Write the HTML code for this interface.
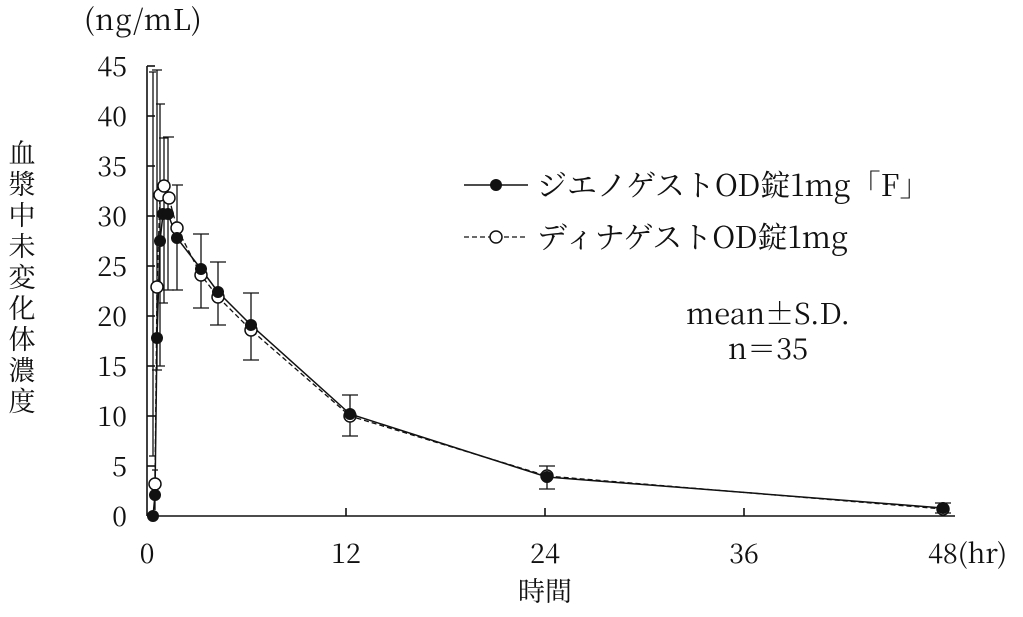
<!DOCTYPE html>
<html><head><style>body{margin:0;background:#fff}text{font-family:"Noto Serif CJK SC","Liberation Serif",serif;fill:#111}</style></head><body>
<svg width="1023" height="612" viewBox="0 0 1023 612" xmlns="http://www.w3.org/2000/svg">
<g stroke="#111" stroke-width="1.6" fill="none">
<line x1="147" y1="66" x2="147" y2="516"/><line x1="147" y1="516" x2="955" y2="516"/>
<line x1="147" y1="66" x2="155" y2="66"/><line x1="147" y1="116" x2="155" y2="116"/><line x1="147" y1="166" x2="155" y2="166"/><line x1="147" y1="216" x2="155" y2="216"/><line x1="147" y1="266" x2="155" y2="266"/><line x1="147" y1="316" x2="155" y2="316"/><line x1="147" y1="366" x2="155" y2="366"/><line x1="147" y1="416" x2="155" y2="416"/><line x1="147" y1="466" x2="155" y2="466"/>
<line x1="346" y1="516" x2="346" y2="508"/><line x1="545" y1="516" x2="545" y2="508"/><line x1="744" y1="516" x2="744" y2="508"/><line x1="943" y1="516" x2="943" y2="508"/>
</g>
<g stroke="#111" stroke-width="1.3" fill="none">
<path d="M153 72V456M149 72h7M149 456h7"/>
<path d="M157 70V370M152 70h10M152 370h10"/>
<path d="M160 104V366M156 104h9M156 366h9"/>
<path d="M164 138V303M159 138h9M159 303h9"/>
<path d="M168 137V290M163 137h11M163 290h11"/>
<path d="M177 185V290M172 185h11M172 290h11"/>
<path d="M201 234V308M193 234h16M193 308h16"/>
<path d="M218 262V325M210 262h16M210 325h16"/>
<path d="M251 293V360M243 293h16M243 360h16"/>
<path d="M350 395V436M342 395h16M342 436h16"/>
<path d="M547 466V489M539 466h16M539 489h16"/>
<path d="M943 503V513M935 503h16M935 513h16"/>
<path d="M155 484V470M152 470h6M155 496V510"/>
</g>
<polyline fill="none" stroke="#111" stroke-width="1.3" stroke-dasharray="5,3" points="155,484 157,287 160,195 164,186 169,198 177,228 201,275 218,297 251,330 350,416 547,476 943,509"/>
<polyline fill="none" stroke="#111" stroke-width="1.5" points="153,516 155,495 157,338 160,241 163,214 168,214 177,238 201,269 218,292 251,325 350,414 547,477 943,508"/>
<g fill="#fff" stroke="#111" stroke-width="1.5">
<circle cx="155" cy="484" r="6"/><circle cx="157" cy="287" r="6"/><circle cx="160" cy="195" r="6"/><circle cx="164" cy="186" r="6"/><circle cx="169" cy="198" r="6"/><circle cx="177" cy="228" r="6"/><circle cx="201" cy="275" r="6"/><circle cx="218" cy="297" r="6"/><circle cx="251" cy="330" r="6"/><circle cx="350" cy="416" r="6"/><circle cx="547" cy="476" r="6"/><circle cx="943" cy="509" r="6"/>
</g>
<g fill="#111">
<circle cx="153" cy="516" r="6"/><circle cx="155" cy="495" r="6"/><circle cx="157" cy="338" r="6"/><circle cx="160" cy="241" r="6"/><circle cx="163" cy="214" r="6"/><circle cx="168" cy="214" r="6"/><circle cx="177" cy="238" r="6"/><circle cx="201" cy="269" r="6"/><circle cx="218" cy="292" r="6"/><circle cx="251" cy="325" r="6"/><circle cx="350" cy="414" r="6"/><circle cx="547" cy="477" r="6"/><circle cx="943" cy="508" r="6"/>
</g>
<g font-size="27" text-anchor="end">
<text x="127" y="76">45</text><text x="127" y="126">40</text><text x="127" y="176">35</text><text x="127" y="226">30</text><text x="127" y="276">25</text><text x="127" y="326">20</text><text x="127" y="376">15</text><text x="127" y="426">10</text><text x="127" y="476">5</text><text x="127" y="526">0</text>
</g>
<g font-size="27" text-anchor="middle">
<text x="147" y="563">0</text><text x="346" y="563">12</text><text x="545" y="563">24</text><text x="744" y="563">36</text>
</g>
<text x="928" y="563" font-size="27">48(hr)</text>
<text x="545" y="601" font-size="27" text-anchor="middle">時間</text>
<text x="84" y="30" font-size="29" letter-spacing="1">(ng/mL)</text>
<g font-size="27" text-anchor="middle"><text x="22" y="163">血</text><text x="22" y="194">漿</text><text x="22" y="225">中</text><text x="22" y="256">未</text><text x="22" y="287">変</text><text x="22" y="318">化</text><text x="22" y="349">体</text><text x="22" y="380">濃</text><text x="22" y="411">度</text></g>
<line x1="464" y1="185" x2="528" y2="185" stroke="#111" stroke-width="1.5"/><circle cx="496" cy="185" r="6" fill="#111"/>
<text x="537" y="196" font-size="30">ジエノゲストOD錠1mg「F」</text>
<line x1="464" y1="237" x2="528" y2="237" stroke="#111" stroke-width="1.3" stroke-dasharray="5,3"/><circle cx="496" cy="237" r="6" fill="#fff" stroke="#111" stroke-width="1.5"/>
<text x="537" y="248" font-size="30">ディナゲストOD錠1mg</text>
<text x="768" y="324" font-size="29" text-anchor="middle">mean±S.D.</text>
<text x="768" y="359" font-size="29" text-anchor="middle">n＝35</text>
</svg>
</body></html>
